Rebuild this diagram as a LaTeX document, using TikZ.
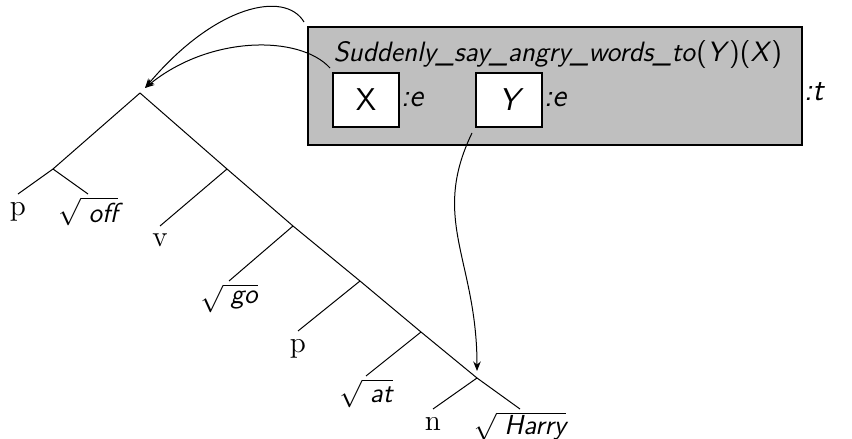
\documentclass[tikz,border=0pt]{standalone}
\usepackage{amsmath}
\usetikzlibrary{arrows.meta}
\newcommand{\fs}{\fontsize{11}{13.2}\selectfont}
\newcommand{\fb}{\fontsize{12.6}{15}\selectfont}
\begin{document}
\begin{tikzpicture}[x=0.4pt,y=-0.4pt,
  edge/.style={draw=black,line width=0.4pt},
  cat/.style={anchor=north,inner sep=3pt,font=\fontsize{11.8}{14}\selectfont\rmfamily},
  rootlbl/.style={anchor=north,inner sep=1pt,font=\fs},
  frame/.style={draw=black,fill=gray!50,line width=0.8pt,minimum width=197.6pt,minimum height=47.2pt,inner sep=0pt},
  varbox/.style={draw=black,fill=white,line width=0.8pt,minimum width=26.4pt,minimum height=21.6pt,inner sep=0pt,font=\fb\sffamily},
  typ/.style={anchor=base west,inner sep=0.5pt,font=\fb\sffamily\itshape},
  link/.style={-{Stealth[length=3.8pt,width=3pt]},line width=0.4pt}]
\useasboundingbox (0,0) rectangle (852,439);
\newcommand{\rt}[1]{$\sqrt{\;\text{\sffamily\itshape #1}}$}
% tree
\coordinate (r) at (140,93);
\coordinate (a) at (53,169);
\coordinate (ap) at (18,194);
\coordinate (ar) at (88,194);
\coordinate (b) at (227,169);
\coordinate (bv) at (160,226);
\coordinate (c) at (293,226);
\coordinate (cg) at (229,281);
\coordinate (d) at (360,281);
\coordinate (dp) at (298,331);
\coordinate (e) at (421,332);
\coordinate (ea) at (366,376);
\coordinate (f) at (477,378);
\coordinate (fn) at (433,409);
\coordinate (fh) at (520,409);
\draw[edge] (r) -- (a) (a) -- (ap) (a) -- (ar);
\draw[edge] (r) -- (b) -- (c) -- (d) -- (e) -- (f) -- (fh);
\draw[edge] (b) -- (bv) (c) -- (cg) (d) -- (dp) (e) -- (ea) (f) -- (fn);
\node[cat] (lp1) at (ap) {p};
\node[rootlbl] (loff) at (ar) {\rt{off}};
\node[cat] (lv) at (bv) {v};
\node[rootlbl] (lgo) at (cg) {\rt{go}};
\node[cat] (lp2) at (dp) {p};
\node[rootlbl] (lat) at (ea) {\rt{at}};
\node[cat] (ln) at (fn) {n};
\node[rootlbl] (lharry) at (fh) {\rt{Harry}};
% semantic box
\node[frame] (box) at (555,86) {};
\node[anchor=base west,inner sep=0pt,font=\fontsize{11.2}{13.4}\selectfont\sffamily] (pred) at (333,62) {\textit{Suddenly\_say\_angry\_words\_to}(\textit{Y})(\textit{X})};
\node[varbox] (bx) at (366,100) {X};
\node[varbox,font=\fb\sffamily\itshape] (by) at (509,100) {Y};
\node[typ] (tx) at (399,107) {:e};
\node[typ] (ty) at (542,107) {:e};
\node[typ] (tt) at (802,101) {:t};
% links
\coordinate (s1) at (304,22);
\coordinate (s2) at (330,68);
\coordinate (s3) at (472,133);
\coordinate (t1) at (145,88);
\coordinate (t3) at (477,371);
\draw[link] (s1) .. controls (285,-10) and (215,5) .. (t1);
\draw[link] (s2) .. controls (300,35) and (210,35) .. (t1);
\draw[link] (s3) .. controls (430,220) and (477,260) .. (t3);
\end{tikzpicture}
\end{document}
